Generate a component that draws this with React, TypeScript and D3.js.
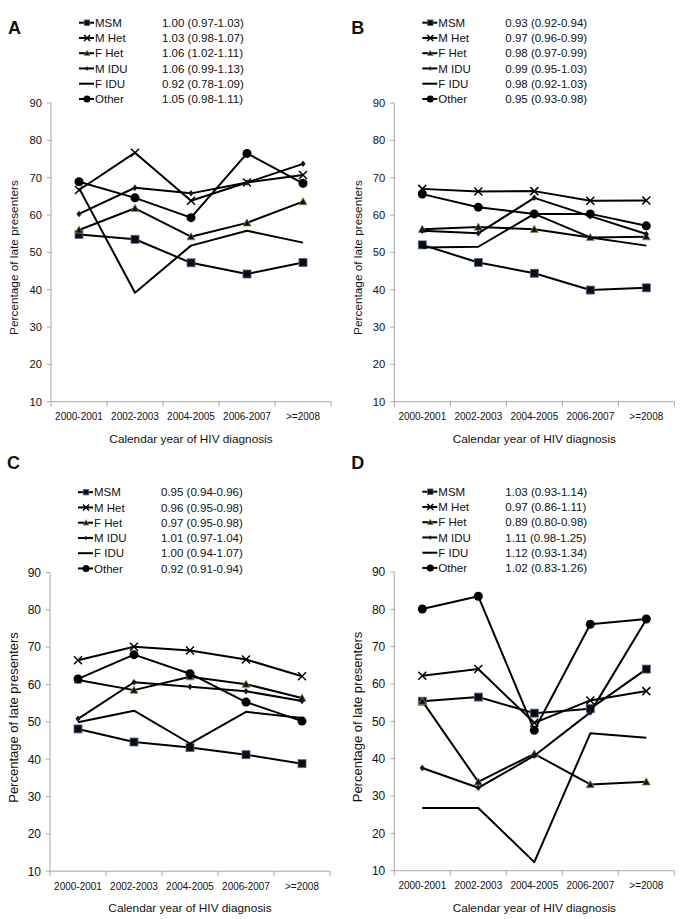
import React from "react";
import * as d3 from "d3";

const categories = ["2000-2001", "2002-2003", "2004-2005", "2006-2007", ">=2008"];
const groups = ["MSM", "M Het", "F Het", "M IDU", "F IDU", "Other"];
const yTicks = [10, 20, 30, 40, 50, 60, 70, 80, 90];

// Panel A
const aMSM = [54.8, 53.5, 47.2, 44.2, 47.3];
const aMHet = [66.7, 76.7, 63.8, 68.7, 70.7];
const aFHet = [56.0, 61.8, 54.2, 57.9, 63.6];
const aMIDU = [60.3, 67.3, 65.8, 68.7, 73.7];
const aFIDU = [67.2, 39.2, 51.8, 55.8, 52.6];
const aOther = [68.9, 64.6, 59.3, 76.5, 68.5];
const aRR = ["1.00 (0.97-1.03)", "1.03 (0.98-1.07)", "1.06 (1.02-1.11)", "1.06 (0.99-1.13)", "0.92 (0.78-1.09)", "1.05 (0.98-1.11)"];

// Panel B
const bMSM = [52.0, 47.3, 44.4, 39.9, 40.5];
const bMHet = [67.0, 66.3, 66.4, 63.8, 63.9];
const bFHet = [56.2, 56.8, 56.2, 54.0, 54.2];
const bMIDU = [55.8, 55.1, 64.6, 59.7, 54.9];
const bFIDU = [51.3, 51.5, 60.3, 54.0, 51.8];
const bOther = [65.6, 62.1, 60.3, 60.3, 57.1];
const bRR = ["0.93 (0.92-0.94)", "0.97 (0.96-0.99)", "0.98 (0.97-0.99)", "0.99 (0.95-1.03)", "0.98 (0.92-1.03)", "0.95 (0.93-0.98)"];

// Panel C
const cMSM = [48.1, 44.6, 43.1, 41.2, 38.8];
const cMHet = [66.5, 70.1, 69.1, 66.7, 62.2];
const cFHet = [61.2, 58.5, 62.1, 60.1, 56.4];
const cMIDU = [50.8, 60.6, 59.4, 58.2, 55.6];
const cFIDU = [49.9, 53.0, 44.2, 52.7, 51.0];
const cOther = [61.5, 68.0, 62.9, 55.3, 50.2];
const cRR = ["0.95 (0.94-0.96)", "0.96 (0.95-0.98)", "0.97 (0.95-0.98)", "1.01 (0.97-1.04)", "1.00 (0.94-1.07)", "0.92 (0.91-0.94)"];

// Panel D
const dMSM = [55.4, 56.5, 52.2, 53.4, 64.0];
const dMHet = [62.2, 64.0, 49.6, 55.6, 58.1];
const dFHet = [55.4, 33.8, 41.3, 33.1, 33.8];
const dMIDU = [37.5, 32.2, 40.8, 52.4, 77.3];
const dFIDU = [26.8, 26.8, 12.3, 46.8, 45.6];
const dOther = [80.1, 83.5, 47.6, 76.0, 77.4];
const dRR = ["1.03 (0.93-1.14)", "0.97 (0.86-1.11)", "0.89 (0.80-0.98)", "1.11 (0.98-1.25)", "1.12 (0.93-1.34)", "1.02 (0.83-1.26)"];

const panels = [
  { letter: "A", series: [aMSM, aMHet, aFHet, aMIDU, aFIDU, aOther], rr: aRR, dx: 0, dy: 0, letterY: 28, legendY: 22.7, yLabelY: 257.5, yLabelSize: 11.8, tickSize: 11.2 },
  { letter: "B", series: [bMSM, bMHet, bFHet, bMIDU, bFIDU, bOther], rr: bRR, dx: 343.3, dy: 0, letterY: 28, legendY: 22.7, yLabelY: 257.5, yLabelSize: 11.8, tickSize: 11.2 },
  { letter: "C", series: [cMSM, cMHet, cFHet, cMIDU, cFIDU, cOther], rr: cRR, dx: -1, dy: 469.5, letterY: 463, legendY: 22.7, yLabelY: 248, yLabelSize: 13, tickSize: 12 },
  { letter: "D", series: [dMSM, dMHet, dFHet, dMIDU, dFIDU, dOther], rr: dRR, dx: 343.3, dy: 469, letterY: 463, legendY: 22.7, yLabelY: 248, yLabelSize: 13, tickSize: 12 },
];

const FONT = "'Liberation Sans', Arial, sans-serif";
const LEFT = 51;
const RIGHT = 331;
const TOP = 103;
const BOTTOM = 401.7;

function Marker({ kind, x, y, s }: { kind: number; x: number; y: number; s: number }) {
  if (kind === 0) {
    return <rect x={x - s / 2} y={y - s / 2} width={s} height={s} fill="#0b0b16" stroke="#56688a" strokeWidth={0.8} />;
  }
  if (kind === 1) {
    const h = s / 2;
    return (
      <path d={`M${x - h},${y - h}L${x + h},${y + h}M${x - h},${y + h}L${x + h},${y - h}`} stroke="#000" strokeWidth={1.5} fill="none" />
    );
  }
  if (kind === 2) {
    const h = s / 2;
    return <path d={`M${x},${y - h}L${x + h},${y + h * 0.8}L${x - h},${y + h * 0.8}Z`} fill="#151505" stroke="#8f8f5c" strokeWidth={0.8} />;
  }
  if (kind === 3) {
    const h = s / 2;
    return <path d={`M${x},${y - h}L${x + h * 0.8},${y}L${x},${y + h}L${x - h * 0.8},${y}Z`} fill="#15152e" />;
  }
  if (kind === 5) {
    return <circle cx={x} cy={y} r={s / 2} fill="#000" />;
  }
  return null;
}

const markerSize = [8, 8, 8, 6.5, 0, 9];
const legendMarkerSize = [5.5, 6, 6, 4.5, 0, 7];

function Panel({ p }: { p: (typeof panels)[number] }) {
  const x = d3.scaleBand<string>().domain(categories).range([LEFT, RIGHT]).padding(0);
  const y = d3.scaleLinear().domain([10, 90]).range([BOTTOM, TOP]);
  const cx = (c: string) => (x(c) as number) + x.bandwidth() / 2;
  const line = d3
    .line<number>()
    .x((_, i) => cx(categories[i]))
    .y((v) => y(v));
  const boundaries = [...categories.map((c) => x(c) as number), RIGHT];
  return (
    <g transform={`translate(${p.dx},${p.dy})`}>
      <text x={8} y={p.letterY - p.dy} dy="0.36em" fontSize={18} fontWeight="bold" fontFamily={FONT} fill="#111">
        {p.letter}
      </text>
      {/* legend */}
      {groups.map((g, i) => {
        const ly = p.legendY + i * 15.25;
        return (
          <g key={g}>
            <line x1={79} x2={94} y1={ly} y2={ly} stroke="#000" strokeWidth={2} />
            <Marker kind={i} x={87} y={ly} s={legendMarkerSize[i]} />
            <text x={95} y={ly} dy="0.36em" fontSize={11.5} fontFamily={FONT} fill="#111">
              {g}
            </text>
            <text x={162} y={ly} dy="0.36em" fontSize={11.5} fontFamily={FONT} fill="#111">
              {p.rr[i]}
            </text>
          </g>
        );
      })}
      {/* axes */}
      <line x1={LEFT} x2={LEFT} y1={TOP} y2={BOTTOM} stroke="#a8a8a8" strokeWidth={1} />
      <line x1={LEFT} x2={RIGHT} y1={BOTTOM} y2={BOTTOM} stroke="#a8a8a8" strokeWidth={1} />
      {yTicks.map((t) => (
        <g key={t}>
          <line x1={LEFT - 4} x2={LEFT} y1={y(t)} y2={y(t)} stroke="#a8a8a8" strokeWidth={1} />
          <text x={LEFT - 9} y={y(t)} dy="0.36em" textAnchor="end" fontSize={p.tickSize} fontFamily={FONT} fill="#111">
            {t}
          </text>
        </g>
      ))}
      {boundaries.map((b, i) => (
        <line key={i} x1={b} x2={b} y1={BOTTOM} y2={BOTTOM + 5} stroke="#a8a8a8" strokeWidth={1} />
      ))}
      {categories.map((c) => (
        <text key={c} x={cx(c)} y={BOTTOM + 15} dy="0.36em" textAnchor="middle" fontSize={10} fontFamily={FONT} fill="#111">
          {c}
        </text>
      ))}
      <text x={(LEFT + RIGHT) / 2 + 0} y={BOTTOM + 37} dy="0.36em" textAnchor="middle" fontSize={11.8} fontFamily={FONT} fill="#111">
        Calendar year of HIV diagnosis
      </text>
      <text
        transform={`translate(14,${p.yLabelY}) rotate(-90)`}
        textAnchor="middle"
        dy="0.36em"
        fontSize={p.yLabelSize}
        fontFamily={FONT}
        fill="#111"
      >
        Percentage of late presenters
      </text>
      {/* series */}
      {p.series.map((s, i) => (
        <g key={i}>
          <path d={line(s) || ""} fill="none" stroke="#000" strokeWidth={2} strokeLinejoin="round" />
          {s.map((v, j) => (
            <Marker key={j} kind={i} x={cx(categories[j])} y={y(v)} s={markerSize[i]} />
          ))}
        </g>
      ))}
    </g>
  );
}

export default function App() {
  return (
    <svg width={683} height={919} viewBox="0 0 683 919" style={{ position: "absolute", left: 0, top: 0, background: "#fff" }}>
      <rect width={683} height={919} fill="#fff" />
      {panels.map((p) => (
        <Panel key={p.letter} p={p} />
      ))}
    </svg>
  );
}
